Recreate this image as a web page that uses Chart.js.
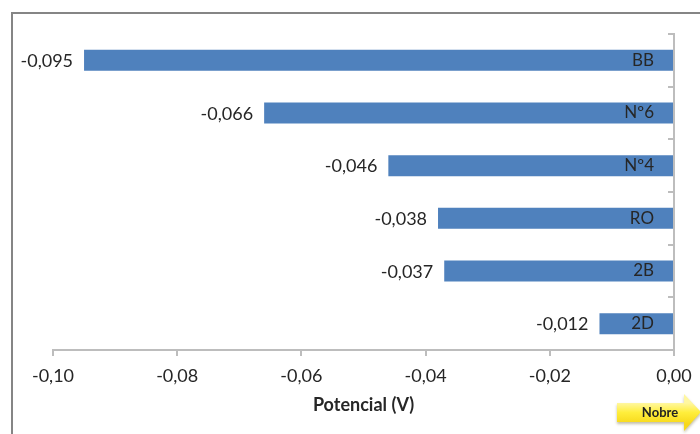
<!DOCTYPE html>
<html>
<head>
<meta charset="utf-8">
<style>
  html, body { margin: 0; padding: 0; background: #fff; }
  #wrap { width: 700px; height: 434px; }
</style>
<script src="https://cdn.jsdelivr.net/npm/chart.js@4"></script>
</head>
<body>
<div id="wrap"><canvas id="chart" width="700" height="434"></canvas></div>
<script>
'use strict';

const CATEGORIES = ['BB', 'Nº6', 'Nº4', 'RO', '2B', '2D'];
const POTENTIALS = [-0.095, -0.066, -0.046, -0.038, -0.037, -0.012];
const VALUE_LABELS = ['-0,095', '-0,066', '-0,046', '-0,038', '-0,037', '-0,012'];
const X_TICKS = ['-0,10', '-0,08', '-0,06', '-0,04', '-0,02', '0,00'];
const X_TITLE = 'Potencial (V)';

const FONT = 'Lato, "Open Sans", sans-serif';
const TEXT = '#262626';
const AXIS = '#bdbdbd';

// Outer frame: only the top and left edges fall inside the window
const framePlugin = {
  id: 'frame',
  beforeDraw(chart) {
    const { ctx } = chart;
    ctx.save();
    ctx.strokeStyle = '#858585';
    ctx.lineWidth = 2;
    ctx.beginPath();
    ctx.moveTo(12, 434);
    ctx.lineTo(12, 13);
    ctx.lineTo(700, 13);
    ctx.stroke();
    ctx.restore();
  },
};

// Value text to the left of each bar
const valueLabelPlugin = {
  id: 'valueLabels',
  afterDatasetsDraw(chart) {
    const { ctx } = chart;
    ctx.save();
    ctx.font = `18px ${FONT}`;
    ctx.fillStyle = TEXT;
    ctx.textAlign = 'right';
    ctx.textBaseline = 'middle';
    chart.getDatasetMeta(0).data.forEach((bar, i) => {
      ctx.fillText(VALUE_LABELS[i], bar.x - 11, bar.y + 1);
    });
    ctx.restore();
  },
};

// Yellow "Nobre" arrow in the bottom right corner
const arrowPlugin = {
  id: 'arrow',
  afterDraw(chart) {
    const { ctx } = chart;
    ctx.save();
    const grad = ctx.createLinearGradient(0, 403, 0, 424);
    grad.addColorStop(0, '#fff7a0');
    grad.addColorStop(0.45, '#ffee3c');
    grad.addColorStop(1, '#f7d81a');
    ctx.shadowColor = 'rgba(120, 110, 60, 0.45)';
    ctx.shadowBlur = 3;
    ctx.shadowOffsetY = 2;
    ctx.fillStyle = grad;
    ctx.beginPath();
    ctx.moveTo(617, 403);
    ctx.lineTo(684, 403);
    ctx.lineTo(684, 394);
    ctx.lineTo(701, 412);
    ctx.lineTo(684, 431);
    ctx.lineTo(684, 422);
    ctx.lineTo(617, 422);
    ctx.closePath();
    ctx.fill();
    ctx.shadowColor = 'transparent';
    ctx.font = `bold 13px ${FONT}`;
    ctx.fillStyle = '#222';
    ctx.textAlign = 'center';
    ctx.textBaseline = 'middle';
    ctx.fillText('Nobre', 660, 413);
    ctx.restore();
  },
};

new Chart(document.getElementById('chart'), {
  type: 'bar',
  data: {
    labels: CATEGORIES,
    datasets: [{
      data: POTENTIALS,
      backgroundColor: '#4f81bd',
      barPercentage: 0.4,
      categoryPercentage: 1,
    }],
  },
  options: {
    indexAxis: 'y',
    responsive: false,
    animation: false,
    layout: { padding: { left: 53, top: 34, right: 26, bottom: 0 } },
    plugins: { legend: { display: false }, tooltip: { enabled: false } },
    scales: {
      x: {
        min: -0.1,
        max: 0,
        afterFit(scale) {
          scale.height = 84;
          // end labels may overhang the plot area
          scale.paddingLeft = 0;
          scale.paddingRight = 0;
        },
        afterBuildTicks(scale) {
          scale.ticks = X_TICKS.map((t, i) => ({ value: -0.1 + i * 0.02, label: t }));
        },
        ticks: {
          autoSkip: false,
          maxRotation: 0,
          padding: 9,
          color: TEXT,
          font: { family: FONT, size: 18 },
          callback(value, i) { return X_TICKS[i]; },
        },
        grid: { drawOnChartArea: false, color: AXIS, tickLength: 6, tickColor: AXIS, lineWidth: 2 },
        border: { color: AXIS, width: 2 },
        title: {
          display: true,
          text: X_TITLE,
          color: TEXT,
          font: { family: FONT, size: 18, weight: 'bold' },
          padding: { top: 6, bottom: 18 },
        },
      },
      y: {
        position: 'right',
        afterFit(scale) { scale.width = 0; },
        ticks: {
          mirror: true,
          padding: -20,
          z: 1,
          color: TEXT,
          font: { family: FONT, size: 17 },
        },
        grid: { drawOnChartArea: false, offset: true, color: AXIS, tickColor: AXIS, tickLength: -6, lineWidth: 2 },
        border: { color: AXIS, width: 2 },
      },
    },
  },
  plugins: [framePlugin, valueLabelPlugin, arrowPlugin],
});
</script>
</body>
</html>
